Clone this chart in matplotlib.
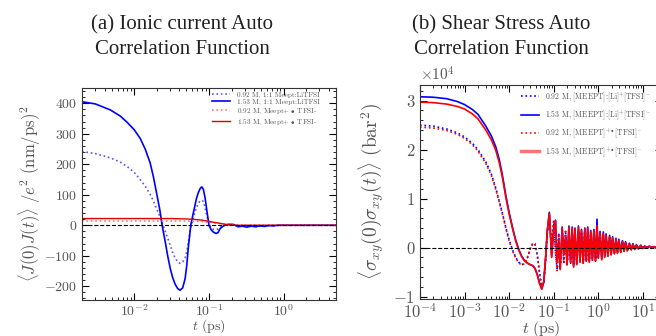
import matplotlib
matplotlib.use("Agg")
import matplotlib.pyplot as plt
from matplotlib.ticker import AutoMinorLocator, LogLocator, NullFormatter

plt.rcParams["font.family"] = "serif"
plt.rcParams["font.serif"] = ["cmr10"]
plt.rcParams["mathtext.fontset"] = "cm"
plt.rcParams["axes.formatter.use_mathtext"] = True
plt.rcParams["axes.unicode_minus"] = True

# ---------------- panel (a): ionic current ACF ----------------
t_a = [0.002, 0.003, 0.0048, 0.0065, 0.008, 0.010, 0.012, 0.014, 0.0163, 0.018,
       0.0201, 0.022, 0.0236, 0.026, 0.028, 0.0302, 0.0325, 0.0352, 0.038, 0.041,
       0.0445, 0.0479, 0.0505, 0.053, 0.055, 0.057, 0.061, 0.0649, 0.068, 0.072,
       0.076, 0.080, 0.084, 0.0886, 0.094, 0.100, 0.107, 0.114, 0.124, 0.132,
       0.140, 0.150, 0.163, 0.18, 0.21, 0.245, 0.28, 0.32, 0.37, 0.42,
       0.48, 0.55, 0.63, 0.72, 0.85, 1.0, 1.5, 2.0, 3.0, 5.0]

j_li_092 = [242, 235, 221, 207, 193, 173, 150, 128, 102, 80,
            52, 30, 8, -20, -42, -65, -88, -107, -120, -125,
            -120, -107, -85, -55, -30, -8, 20, 42, 58, 72,
            80, 82, 78, 58, 28, 2, -8, -13, -15, -12,
            -7, -3, 0, 2, 2, -3, -2, -4, -2, -3,
            -2, -3, -1, -1, 0, 0, 0, 0, 0, 0]

j_li_153 = [405, 398, 378, 358, 338, 313, 285, 250, 205, 160,
            100, 50, 0, -55, -100, -140, -170, -193, -207, -213,
            -205, -175, -130, -70, -35, 0, 35, 65, 88, 107,
            120, 126, 118, 90, 45, 0, -15, -22, -27, -24,
            -12, -5, 0, 3, 3, -5, -3, -6, -3, -5,
            -2, -4, -1, -2, 0, 0, 0, 0, 0, 0]

j_rad_092 = [14, 14, 14, 14, 14, 14, 14, 14, 14, 14,
             14, 14, 14, 14, 14, 14, 14, 14, 14, 14,
             14, 14, 13.5, 13.5, 13.5, 13, 13, 13, 12.5, 12.5,
             12, 12, 11.5, 11, 10.5, 10, 9, 8, 7, 6,
             5, 4, 3, 2, 0.5, 0, 0, 0, 0, 0,
             0, 0, 0, 0, 0, 0, 0, 0, 0, 0]

j_rad_153 = [22, 22, 22, 22, 22, 22, 22, 22, 22, 22,
             22, 22, 22, 22, 22, 22, 22, 21.5, 21.5, 21,
             21, 21, 20.5, 20.5, 20, 20, 19.5, 19, 18.5, 18,
             17.5, 17, 16, 15, 14, 13, 11.5, 10, 8.5, 7.5,
             6.5, 5, 3.5, 2, 0.5, 0, 0, 0, 0, 0,
             0, 0, 0, 0, 0, 0, 0, 0, 0, 0]

labels_a = ["0.92 M, 1:1 Meept:LiTFSI",
            "1.53 M, 1:1 Meept:LiTFSI",
            r"0.92 M, Meept+ $\bullet$ TFSI-",
            r"1.53 M, Meept+ $\bullet$ TFSI-"]

# ---------------- panel (b): shear stress ACF (units of 1e4 bar^2) ----------------
t_head = [1e-4, 2e-4, 4e-4, 7e-4, 1e-3, 1.5e-3, 2e-3, 3e-3, 4e-3, 5e-3,
          6e-3, 7e-3, 8.5e-3, 1e-2, 1.2e-2, 1.4e-2, 1.65e-2, 1.9e-2, 2.2e-2, 2.6e-2,
          3e-2, 3.4e-2, 3.8e-2, 4.3e-2, 4.8e-2, 5.4e-2, 6e-2, 6.6e-2, 7.2e-2]
t_tail = [0.08, 0.09, 0.10, 0.11, 0.12, 0.13, 0.14, 0.155, 0.17, 0.185,
          0.2, 0.22, 0.24, 0.26, 0.28, 0.3, 0.33, 0.36, 0.39, 0.42,
          0.46, 0.5, 0.54, 0.58, 0.63, 0.68, 0.74, 0.8, 0.87, 0.94,
          1.0, 1.1, 1.2, 1.3, 1.4, 1.5, 1.65, 1.8, 1.95, 2.1,
          2.3, 2.5, 2.7, 2.9, 3.2, 3.5, 3.8, 4.1, 4.5, 5.0,
          5.5, 6.0, 6.6, 7.2, 8.0, 9.0, 10, 11, 12.5, 14,
          16, 18, 20, 23, 26]
t_b = t_head + t_tail

s_li_092 = [2.50, 2.48, 2.42, 2.34, 2.26, 2.13, 2.00, 1.75, 1.50, 1.22,
            0.95, 0.72, 0.40, 0.16, -0.05, -0.20, -0.30, -0.35, -0.33, -0.20,
            -0.02, 0.08, 0.08, -0.15, -0.50, -0.80, -0.72, -0.25, 0.30,
            0.65, 0.05, 0.55, -0.10, -0.45, 0.30, -0.42, 0.20, -0.30, 0.35,
            -0.38, 0.30, -0.32, 0.38, -0.35, 0.30, -0.33, 0.35, -0.30, 0.32,
            -0.30, 0.35, -0.28, 0.30, -0.27, 0.28, -0.24, 0.30, -0.25, 0.35,
            -0.20, 0.26, -0.22, 0.24, -0.18, 0.22, -0.16, 0.20, -0.14, 0.18,
            -0.12, 0.15, -0.11, 0.13, -0.09, 0.11, -0.07, 0.09, -0.06, 0.07,
            -0.04, 0.06, -0.03, 0.04, -0.02, 0.03, -0.01, 0.02, 0.0, 0.02,
            -0.01, 0.01, 0.0, 0.01, 0.0]

s_li_153 = [3.08, 3.07, 3.04, 2.98, 2.92, 2.82, 2.72, 2.48, 2.28, 2.06,
            1.80, 1.50, 1.05, 0.72, 0.40, 0.16, -0.04, -0.17, -0.26, -0.32,
            -0.35, -0.37, -0.42, -0.55, -0.72, -0.84, -0.70, -0.20, 0.35,
            0.72, -0.18, 0.38, 0.56, -0.28, 0.12, -0.43, 0.42, -0.14, 0.22,
            -0.33, 0.44, -0.28, 0.42, -0.38, 0.40, -0.33, 0.44, -0.28, 0.37,
            -0.30, 0.40, -0.26, 0.42, -0.28, 0.35, -0.23, 0.37, -0.26, 0.58,
            -0.20, 0.33, -0.23, 0.32, -0.18, 0.28, -0.16, 0.25, -0.13, 0.22,
            -0.11, 0.19, -0.10, 0.17, -0.08, 0.14, -0.06, 0.12, -0.05, 0.09,
            -0.04, 0.08, -0.03, 0.06, -0.02, 0.05, -0.01, 0.03, 0.0, 0.03,
            0.0, 0.02, 0.0, 0.01, 0.0]

s_rad_092 = [2.46, 2.44, 2.39, 2.31, 2.23, 2.10, 1.97, 1.72, 1.47, 1.19,
             0.93, 0.70, 0.38, 0.14, -0.07, -0.21, -0.31, -0.36, -0.33, -0.19,
             -0.01, 0.09, 0.07, -0.17, -0.52, -0.82, -0.70, -0.22, 0.32,
             0.63, 0.08, 0.52, -0.12, -0.47, 0.28, -0.40, 0.22, -0.32, 0.33,
             -0.36, 0.32, -0.30, 0.36, -0.37, 0.32, -0.31, 0.37, -0.32, 0.30,
             -0.32, 0.33, -0.30, 0.32, -0.25, 0.30, -0.26, 0.28, -0.27, 0.33,
             -0.22, 0.24, -0.20, 0.26, -0.17, 0.20, -0.17, 0.21, -0.13, 0.17,
             -0.13, 0.14, -0.10, 0.12, -0.10, 0.10, -0.08, 0.08, -0.05, 0.06,
             -0.05, 0.05, -0.03, 0.04, -0.02, 0.03, -0.02, 0.02, 0.0, 0.01,
             -0.01, 0.01, 0.0, 0.01, 0.0]

s_rad_153 = [2.97, 2.96, 2.93, 2.88, 2.83, 2.73, 2.63, 2.40, 2.20, 1.99,
             1.74, 1.45, 1.01, 0.69, 0.38, 0.14, -0.05, -0.18, -0.27, -0.32,
             -0.35, -0.37, -0.43, -0.56, -0.73, -0.85, -0.70, -0.21, 0.34,
             0.70, -0.20, 0.35, 0.55, -0.30, 0.10, -0.45, 0.40, -0.15, 0.20,
             -0.35, 0.42, -0.30, 0.40, -0.40, 0.38, -0.35, 0.42, -0.30, 0.35,
             -0.32, 0.38, -0.28, 0.40, -0.30, 0.33, -0.25, 0.35, -0.28, 0.45,
             -0.22, 0.30, -0.25, 0.28, -0.20, 0.25, -0.18, 0.22, -0.15, 0.20,
             -0.13, 0.17, -0.12, 0.15, -0.10, 0.12, -0.08, 0.10, -0.07, 0.08,
             -0.05, 0.07, -0.04, 0.05, -0.03, 0.04, -0.02, 0.03, -0.01, 0.02,
             0.0, 0.02, 0.0, 0.01, 0.0]

labels_b = [r"0.92 M, [MEEPT]:[Li]$^{+}$[TFSI]$^{-}$",
            r"1.53 M, [MEEPT]:[Li]$^{+}$[TFSI]$^{-}$",
            r"0.92 M, [MEEPT]$^{+\bullet}$[TFSI]$^{-}$",
            r"1.53 M, [MEEPT]$^{+\bullet}$[TFSI]$^{-}$"]

grey = "#555555"

fig = plt.figure(figsize=(6.56, 3.36), dpi=100)
ax1 = fig.add_axes([82 / 656, 36 / 336, 254 / 656, 212 / 336])
ax2 = fig.add_axes([420 / 656, 37 / 336, 242 / 656, 214 / 336])

# panel a
ax1.plot(t_a, j_li_092, ls=":", color="#5555ff", lw=1.2, label=labels_a[0])
ax1.plot(t_a, j_li_153, ls="-", color="blue", lw=1.2, label=labels_a[1])
ax1.plot(t_a, j_rad_092, ls=":", color="#ff7777", lw=1.2, label=labels_a[2])
ax1.plot(t_a, j_rad_153, ls="-", color="#dd0000", lw=1.0, label=labels_a[3])
ax1.axhline(0, color="black", ls="--", lw=0.8)
ax1.set_xscale("log")
ax1.set_xlim(0.002, 5)
ax1.set_ylim(-245, 450)
ax1.yaxis.set_minor_locator(AutoMinorLocator(5))
ax1.set_xlabel(r"$t\ (\mathrm{ps})$", fontsize=10, color=grey, labelpad=-1.5)
ax1.set_ylabel(r"$\langle J(0)J(t)\rangle\ /e^2\ (\mathrm{nm/ps})^2$",
               fontsize=12, color=grey, labelpad=1)
ax1.tick_params(labelsize=10, labelcolor=grey)
ax1.tick_params(axis="x", pad=2.5)
ax1.legend(loc="upper left", bbox_to_anchor=(209 / 656, 1 - 88.5 / 336),
           bbox_transform=fig.transFigure, frameon=False,
           fontsize=5.2, labelcolor=grey, handlelength=2.5, handletextpad=1.0,
           labelspacing=0.15, borderaxespad=0.0)

# panel b
ax2.plot(t_b, [v * 1e4 for v in s_li_092], ls=":", color="blue", lw=1.2, label=labels_b[0])
ax2.plot(t_b, [v * 1e4 for v in s_li_153], ls="-", color="blue", lw=1.2, label=labels_b[1])
ax2.plot(t_b, [v * 1e4 for v in s_rad_092], ls=":", color="red", lw=1.2, label=labels_b[2])
ax2.plot(t_b, [v * 1e4 for v in s_rad_153], ls="-", color="red", lw=1.2, label=labels_b[3])
ax2.axhline(0, color="black", ls="--", lw=0.8)
ax2.set_xscale("log")
ax2.set_xlim(1e-4, 27)
ax2.set_ylim(-1.05e4, 3.32e4)
ax2.set_yticks([-1e4, 0, 1e4, 2e4, 3e4])
ax2.yaxis.set_minor_locator(AutoMinorLocator(5))
ax2.ticklabel_format(axis="y", style="sci", scilimits=(0, 0))
ax2.yaxis.get_offset_text().set_fontsize(11)
ax2.yaxis.get_offset_text().set_color(grey)
ax2.set_xlabel(r"$t\ (\mathrm{ps})$", fontsize=11.5, color=grey, labelpad=-1.5)
ax2.set_ylabel(r"$\langle\sigma_{xy}(0)\sigma_{xy}(t)\rangle\ (\mathrm{bar}^2)$",
               fontsize=14, color=grey, labelpad=5)
ax2.tick_params(labelsize=12, labelcolor=grey)
ax2.tick_params(axis="x", pad=2.5)
leg = ax2.legend(loc="upper left", bbox_to_anchor=(518 / 656, 1 - 87 / 336),
                 bbox_transform=fig.transFigure, frameon=False, fontsize=5.5,
                 labelcolor=grey, handlelength=2.3, handletextpad=0.8,
                 labelspacing=0.65, borderaxespad=0.0)
leg.get_lines()[3].set_linewidth(2.5)
leg.get_lines()[3].set_alpha(0.55)

for ax in (ax1, ax2):
    ax.xaxis.set_major_locator(LogLocator(base=10, numticks=20))
    ax.xaxis.set_minor_locator(LogLocator(base=10, subs=[2, 3, 4, 5, 6, 7, 8, 9], numticks=20))
    ax.xaxis.set_minor_formatter(NullFormatter())
    ax.tick_params(which="both", direction="in", top=True, right=True)
    ax.tick_params(which="major", length=5, width=0.8)
    ax.tick_params(which="minor", length=2.5, width=0.6)
    for s in ax.spines.values():
        s.set_color("#333333")

fig.text(182 / 656, 1 - 37 / 336, "(a) Ionic current Auto\nCorrelation Function",
         ha="center", va="center", fontsize=15, family="Liberation Serif",
         color="#222222", linespacing=1.4)
fig.text(501 / 656, 1 - 37 / 336, "(b) Shear Stress Auto\nCorrelation Function",
         ha="center", va="center", fontsize=15, family="Liberation Serif",
         color="#222222", linespacing=1.4)

fig.savefig("out.png", dpi=100)
